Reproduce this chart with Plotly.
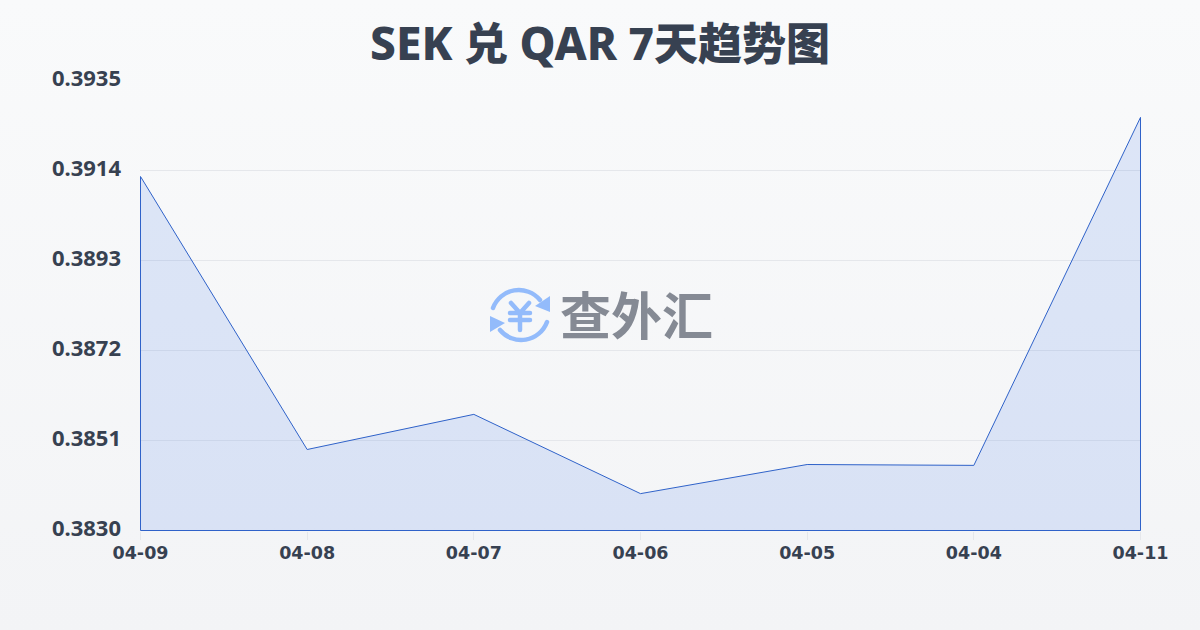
import plotly.graph_objects as go
import base64

dates = ["04-09", "04-08", "04-07", "04-06", "04-05", "04-04", "04-11"]
rates = [0.39126, 0.38489, 0.38571, 0.38386, 0.38454, 0.38452, 0.39264]
y_ticks = [0.3830, 0.3851, 0.3872, 0.3893, 0.3914, 0.3935]
y_labels = ["0.3830", "0.3851", "0.3872", "0.3893", "0.3914", "0.3935"]
y_min, y_max = 0.3830, 0.3935
title = '<span style="font-size:46px">SEK</span> 兑 <span style="font-size:45.5px">QAR</span> 7天趋势图'
logo_text = "查外汇"

FONT = "'Noto Sans', 'Noto Sans CJK SC', sans-serif"
INK = "#374151"
W, H = 1200, 630
L, R, T, B = 140, 59, 80, 99
BLUE = "#93bbfb"


def uri(svg):
    return "data:image/svg+xml;base64," + base64.b64encode(svg.encode()).decode()


bg_svg = (
    f'<svg xmlns="http://www.w3.org/2000/svg" width="{W}" height="{H}" viewBox="0 0 {W} {H}">'
    '<defs><linearGradient id="g" x1="0" y1="0" x2="0" y2="1">'
    '<stop offset="0" stop-color="#f9fafb"/><stop offset="1" stop-color="#f3f4f6"/>'
    f'</linearGradient></defs><rect width="{W}" height="{H}" fill="url(#g)"/></svg>'
)
icon_svg = (
    '<svg xmlns="http://www.w3.org/2000/svg" width="64" height="64" viewBox="0 0 64 64">'
    f'<g fill="none" stroke="{BLUE}" stroke-width="4.5" stroke-linecap="round" stroke-linejoin="round">'
    '<path d="M5 25 A27.5 27.5 0 0 1 52 17"/>'
    '<path d="M59 39 A27.5 27.5 0 0 1 12 47"/>'
    '<path d="M23 20 L32 30 L41 20 M32 30 V47 M22 30 H42 M22 37 H42"/>'
    f'</g><g fill="{BLUE}">'
    '<path d="M62 13 L62 29 L47 23 Z"/><path d="M2 33 L2 49 L17 40 Z"/>'
    '</g></svg>'
)


def px(v):
    return (v - L) / (W - L - R)


def py(v):
    return 1 - (v - T) / (H - T - B)


n = len(dates) - 1
x_pad = 0.5 / 1000 * n
y_pad = 0.5 / 450 * (y_max - y_min)

fig = go.Figure()
fig.add_trace(go.Scatter(
    x=dates + [dates[-1], dates[0], dates[0]],
    y=rates + [y_min, y_min, rates[0]],
    mode="lines",
    fill="toself",
    fillcolor="rgba(37,99,235,0.13)",
    line=dict(color="#2f62c9", width=1),
    hoverinfo="skip",
))

fig.update_layout(
    width=W, height=H,
    margin=dict(l=L, r=R, t=T, b=B),
    paper_bgcolor="#f6f7f9",
    plot_bgcolor="rgba(0,0,0,0)",
    showlegend=False,
    font=dict(family=FONT, color=INK),
    title=dict(
        text=title, x=0.5, xref="container", xanchor="center",
        y=1 - 45 / H, yref="container", yanchor="middle",
        font=dict(size=44, color=INK, family=FONT, weight=800),
    ),
    xaxis=dict(
        type="category", range=[-x_pad, n + x_pad],
        showgrid=False, zeroline=False, showline=False,
        ticks="outside", ticklen=8, tickcolor="#e5e7eb", tickwidth=1,
        ticklabelstandoff=-2,
        tickfont=dict(size=17.5, color=INK, family="'DejaVu Sans'", weight="bold"),
    ),
    yaxis=dict(
        range=[y_min - y_pad, y_max + y_pad], tickvals=y_ticks, ticktext=y_labels,
        showgrid=True, gridcolor="#e5e7eb", gridwidth=1, zeroline=False,
        showline=False, ticks="", ticklabelstandoff=18, ticklabelshift=-2,
        tickfont=dict(size=22, color=INK, family=FONT, weight="bold"),
    ),
    images=[
        dict(source=uri(bg_svg), xref="paper", yref="paper",
             x=px(0), y=py(0), sizex=W / (W - L - R), sizey=H / (H - T - B),
             xanchor="left", yanchor="top", sizing="stretch", layer="below"),
        dict(source=uri(icon_svg), xref="paper", yref="paper",
             x=px(488), y=py(283), sizex=64 / (W - L - R), sizey=64 / (H - T - B),
             xanchor="left", yanchor="top", sizing="stretch", layer="above"),
    ],
    annotations=[
        dict(text=f"<b>{logo_text}</b>", xref="paper", yref="paper",
             x=px(636), y=py(313), xanchor="center", yanchor="middle", showarrow=False,
             font=dict(size=51, color="#858a94", family="'Noto Sans CJK SC'")),
    ],
)

fig.write_html("out.html", config={"displayModeBar": False},
               post_script="document.body.style.margin='0';")
